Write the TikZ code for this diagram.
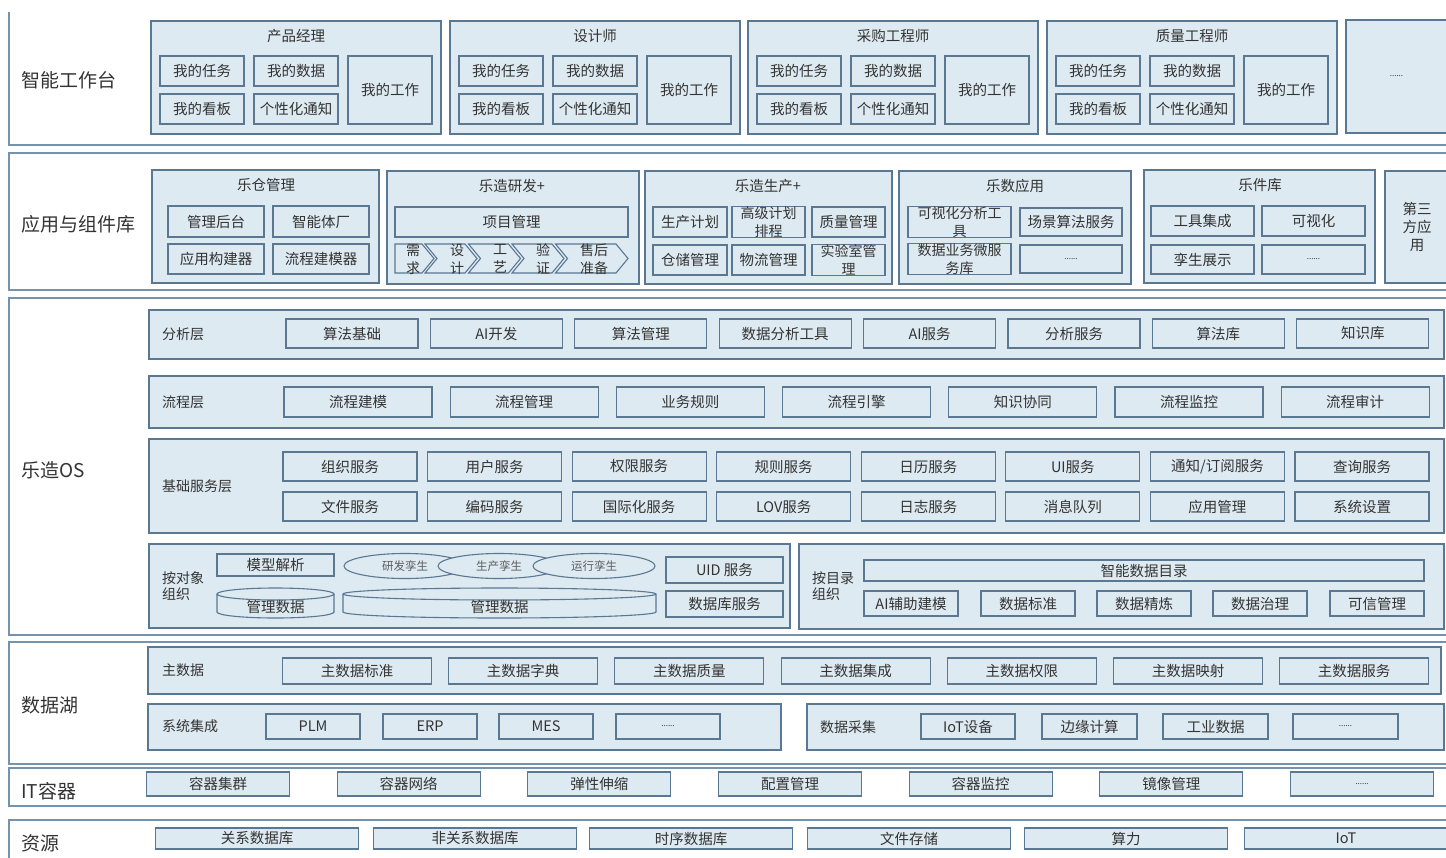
\documentclass[tikz,border=0pt]{standalone}
\usepackage{fontspec}
\setmainfont{Noto Sans CJK SC}
\usetikzlibrary{shapes.geometric}
\definecolor{bd}{HTML}{5A7892}
\definecolor{fl}{HTML}{DEEAF2}
\definecolor{fr}{HTML}{7693AD}
\definecolor{tx}{HTML}{333333}
\newcommand\Bx[7][]{\pgfmathsetmacro\bxw{(#5)-(#3)}\pgfmathsetmacro\bxh{(#6)-(#4)}\node[box,minimum width=\bxw pt,minimum height=\bxh pt,#1] (#2) at ({((#3)+(#5))/2},{((#4)+(#6))/2}) {#7};}
\newcommand\mydots{{\fontsize{8}{8}\selectfont ......}}
\newcommand\Cyl[5]{% name, x1, x2, text, text y
  \pgfmathsetmacro\cyr{((#3)-(#2))/2}
  \draw[box] (#2,594) -- (#2,612) arc[start angle=180,end angle=360,x radius=\cyr pt,y radius=6pt] -- (#3,594) arc[start angle=0,end angle=180,x radius=\cyr pt,y radius=6pt] -- cycle;
  \draw[draw=bd,line width=1.1pt] (#2,594) arc[start angle=180,end angle=360,x radius=\cyr pt,y radius=6pt];
  \node[ttl] (#1) at ({((#2)+(#3))/2},#5) {#4};}
\begin{document}
\begin{tikzpicture}[x=1pt,y=-1pt,
  box/.style={draw=bd, fill=fl, line width=1.1pt, inner sep=0pt, align=center, text=tx, font=\fontsize{14.5}{15}\selectfont},
  frame/.style={draw=fr, line width=1.3pt},
  big/.style={font=\fontsize{19}{22}\selectfont, text=tx, anchor=west, inner sep=0pt},
  lbl/.style={font=\fontsize{14}{16}\selectfont, text=tx, anchor=west, inner sep=0pt, align=left},
  ttl/.style={font=\fontsize{14.5}{16}\selectfont, text=tx, inner sep=0pt, align=center},
  two/.style={font=\fontsize{14}{18}\selectfont},
  chev/.style={font=\fontsize{14}{18}\selectfont, text=tx, inner sep=0pt, align=center},
  twin/.style={ellipse, draw=bd, fill=fl, line width=1.1pt, minimum width=122pt, minimum height=25pt, inner sep=0pt, text=tx!80, font=\fontsize{11.5}{12}\selectfont}
]
\useasboundingbox (0,0) rectangle (1446,857);
% ---------- frames ----------
\draw[frame] (9,12) -- (9,145) -- (1470,145);
\draw[frame] (9,153) rectangle (1470,290);
\draw[frame] (9,298) rectangle (1470,635);
\draw[frame] (9,642) rectangle (1470,764);
\draw[frame] (9,768) rectangle (1470,806);
\draw[frame] (9,820) rectangle (1470,880);
\node[big] (L1) at (21,80) {智能工作台};
\node[big] (L2) at (21,224) {应用与组件库};
\node[big] (L3) at (21,470) {乐造OS};
\node[big] (L4) at (21,705) {数据湖};
\node[big] (L5) at (21,791) {IT容器};
\node[big] (L6) at (21,843) {资源};
% ---------- row 1 ----------
\foreach \i/\x/\t in {1/151/产品经理,2/450/设计师,3/748/采购工程师,4/1047/质量工程师}{
  \Bx{p\i}{\x}{21}{\x+290}{134}{}
  \node[ttl] (p\i-t) at (\x+145,36) {\t};
  \Bx{p\i-a}{\x+9}{56}{\x+93}{86}{我的任务}
  \Bx{p\i-b}{\x+103}{56}{\x+187}{86}{我的数据}
  \Bx{p\i-c}{\x+9}{94}{\x+93}{124}{我的看板}
  \Bx{p\i-d}{\x+103}{94}{\x+187}{124}{个性化通知}
  \Bx{p\i-e}{\x+197}{56}{\x+281}{124}{我的工作}
}
\Bx{p5}{1346}{20}{1447}{133}{\mydots}
% ---------- row 2 ----------
\Bx{lc}{152}{170}{379}{283}{}
\node[ttl] (lc-t) at (266,185) {乐仓管理};
\Bx{lc-a}{168}{206}{264}{237}{管理后台}
\Bx{lc-b}{273}{206}{369}{237}{智能体厂}
\Bx{lc-c}{168}{244}{264}{274}{应用构建器}
\Bx{lc-d}{273}{244}{369}{274}{流程建模器}
\Bx{rd}{387}{171}{639}{284}{}
\node[ttl] (rd-t) at (512,186) {乐造研发+};
\Bx{rd-a}{395}{207}{628}{237}{项目管理}
\draw[box] (395,244) -- (422,244) -- (434,258.5) -- (422,273) -- (395,273) -- cycle;
\draw[box] (425,244) -- (465,244) -- (477,258.5) -- (465,273) -- (425,273) -- (437,258.5) -- cycle;
\draw[box] (468.5,244) -- (508.5,244) -- (520.5,258.5) -- (508.5,273) -- (468.5,273) -- (480.5,258.5) -- cycle;
\draw[box] (512,244) -- (552,244) -- (564,258.5) -- (552,273) -- (512,273) -- (524,258.5) -- cycle;
\draw[box] (555.5,244) -- (616,244) -- (628,258.5) -- (616,273) -- (555.5,273) -- (567.5,258.5) -- cycle;
\node[chev] (c1) at (413,259) {需\\求};
\node[chev] (c2) at (457,259) {设\\计};
\node[chev] (c3) at (500,259) {工\\艺};
\node[chev] (c4) at (543,259) {验\\证};
\node[chev] (c5) at (594,259) {售后\\准备};
\Bx{pr}{645}{171}{892}{284}{}
\node[ttl] (pr-t) at (768,186) {乐造生产+};
\Bx{pr-a}{653}{207}{727}{237}{生产计划}
\Bx[two]{pr-b}{732}{207}{805}{237}{高级计划\\排程}
\Bx{pr-c}{812}{207}{885}{237}{质量管理}
\Bx{pr-d}{653}{245}{727}{275}{仓储管理}
\Bx{pr-e}{732}{245}{805}{275}{物流管理}
\Bx[two]{pr-f}{812}{245}{885}{275}{实验室管\\理}
\Bx{ds}{899}{171}{1131}{284}{}
\node[ttl] (ds-t) at (1015,186) {乐数应用};
\Bx[two]{ds-a}{908}{208}{1011}{236}{可视化分析工\\具}
\Bx{ds-b}{1020}{208}{1122}{236}{场景算法服务}
\Bx[two]{ds-c}{908}{245}{1011}{273}{数据业务微服\\务库}
\Bx{ds-d}{1020}{245}{1122}{273}{\mydots}
\Bx{lj}{1144}{170}{1375}{283}{}
\node[ttl] (lj-t) at (1260,185) {乐件库};
\Bx{lj-a}{1151}{206}{1254}{236}{工具集成}
\Bx{lj-b}{1262}{206}{1365}{236}{可视化}
\Bx{lj-c}{1151}{245}{1254}{274}{孪生展示}
\Bx{lj-d}{1262}{245}{1365}{274}{\mydots}
\Bx[font=\fontsize{14.5}{18}\selectfont]{tp}{1385}{171}{1449}{283}{第三\\方应\\用}
% ---------- row 3 : OS ----------
\Bx{an}{149}{310}{1444}{359}{}
\node[lbl] (an-t) at (162,334) {分析层};
\foreach \n [count=\k] in {算法基础,AI开发,算法管理,数据分析工具,AI服务,分析服务,算法库,知识库}{
  \pgfmathsetmacro\cx{352+144.4*(\k-1)}
  \Bx{an\k}{\cx-66}{319}{\cx+66}{348}{\n}
}
\Bx{fl}{149}{376}{1444}{428}{}
\node[lbl] (fl-t) at (162,402) {流程层};
\foreach \n [count=\k] in {流程建模,流程管理,业务规则,流程引擎,知识协同,流程监控,流程审计}{
  \pgfmathsetmacro\cx{358+166.2*(\k-1)}
  \Bx{fl\k}{\cx-74}{387}{\cx+74}{417}{\n}
}
\Bx{bs}{149}{439}{1444}{533}{}
\node[lbl] (bs-t) at (162,486) {基础服务层};
\foreach \n [count=\k] in {组织服务,用户服务,权限服务,规则服务,日历服务,UI服务,通知/订阅服务,查询服务}{
  \pgfmathsetmacro\cx{350+144.57*(\k-1)}
  \Bx{bsa\k}{\cx-67}{452}{\cx+67}{481}{\n}
}
\foreach \n [count=\k] in {文件服务,编码服务,国际化服务,LOV服务,日志服务,消息队列,应用管理,系统设置}{
  \pgfmathsetmacro\cx{350+144.57*(\k-1)}
  \Bx{bsb\k}{\cx-67}{492}{\cx+67}{521}{\n}
}
\Bx{ob}{149}{544}{790}{628}{}
\node[lbl] (ob-t) at (162,586) {按对象\\组织};
\Bx{ob-a}{217}{554}{334}{576}{模型解析}
\node[twin] (tw1) at (405,566) {研发孪生};
\node[twin] (tw2) at (499,566) {生产孪生};
\node[twin] (tw3) at (594,566) {运行孪生};
\Cyl{cy1}{217}{334}{管理数据}{607}
\Cyl{cy2}{343}{656}{管理数据}{607}
\Bx{ob-b}{666}{557}{783}{583}{UID 服务}
\Bx{ob-c}{666}{591}{783}{617}{数据库服务}
\Bx{ct}{799}{544}{1444}{629}{}
\node[lbl] (ct-t) at (812,586) {按目录\\组织};
\Bx{ct-a}{864}{560}{1424}{581}{智能数据目录}
\foreach \n/\cx [count=\k] in {AI辅助建模/911,数据标准/1028,数据精炼/1144,数据治理/1260,可信管理/1377}{
  \Bx{ct\k}{\cx-47}{591}{\cx+47}{616}{\n}
}
% ---------- row 4 : data lake ----------
\Bx{md}{148}{647}{1441}{694}{}
\node[lbl] (md-t) at (162,670) {主数据};
\foreach \n [count=\k] in {主数据标准,主数据字典,主数据质量,主数据集成,主数据权限,主数据映射,主数据服务}{
  \pgfmathsetmacro\cx{357+166.2*(\k-1)}
  \Bx{md\k}{\cx-74.5}{658}{\cx+74.5}{684}{\n}
}
\Bx{si}{148}{704}{781}{750}{}
\node[lbl] (si-t) at (162,726) {系统集成};
\foreach \n/\cx [count=\k] in {PLM/313,ERP/430,MES/546}{
  \Bx{si\k}{\cx-47}{714}{\cx+47}{739}{\n}
}
\Bx{si4}{616}{714}{720}{739}{\mydots}
\Bx{dc}{807}{704}{1444}{750}{}
\node[lbl] (dc-t) at (820,727) {数据采集};
\Bx{dc1}{921}{714}{1015}{739}{IoT设备}
\Bx{dc2}{1042}{714}{1137}{739}{边缘计算}
\Bx{dc3}{1163}{714}{1268}{739}{工业数据}
\Bx{dc4}{1293}{714}{1398}{739}{\mydots}
% ---------- row 5 : IT container ----------
\foreach \n [count=\k] in {容器集群,容器网络,弹性伸缩,配置管理,容器监控,镜像管理,\mydots}{
  \pgfmathsetmacro\cx{218+190.67*(\k-1)}
  \Bx{it\k}{\cx-71.5}{772}{\cx+71.5}{796}{\n}
}
% ---------- row 6 : resources ----------
\foreach \n/\cx [count=\k] in {关系数据库/257,非关系数据库/475,时序数据库/691,文件存储/909,算力/1126,IoT/1346}{
  \Bx{rs\k}{\cx-101.5}{828}{\cx+101.5}{849}{\n}
}
\end{tikzpicture}
\end{document}
